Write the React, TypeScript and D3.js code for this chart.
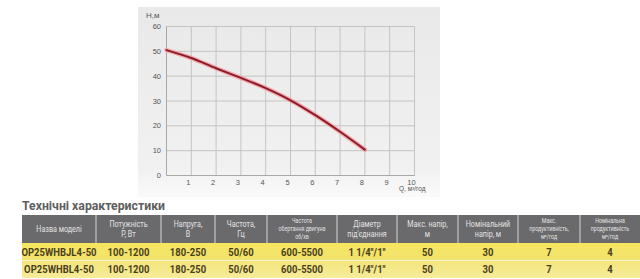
import React from "react";
import * as d3 from "d3";

const flowQ = [0, 1, 2, 3, 4, 5, 6, 7, 8];
const headH = [50.5, 47.3, 43.2, 39.3, 35.2, 30.3, 24.3, 17.6, 10.4];
const xTicks = [1, 2, 3, 4, 5, 6, 7, 8, 9, 10];
const yTicks = [0, 10, 20, 30, 40, 50, 60];

const tableTitle = "Технічні характеристики";
const headers: string[][] = [
  ["Назва моделі"],
  ["Потужність", "P, Вт"],
  ["Напруга,", "В"],
  ["Частота,", "Гц"],
  ["Частота", "обертання двигуна", "об/хв"],
  ["Діаметр", "під'єднання"],
  ["Макс. напір,", "м"],
  ["Номінальний", "напір, м"],
  ["Макс.", "продуктивність,", "м³/год"],
  ["Номінальна", "продуктивність", "м³/год"],
];
const rows: string[][] = [
  ["OP25WHBJL4-50", "100-1200", "180-250", "50/60", "600-5500", "1 1/4\"/1\"", "50", "30", "7", "4"],
  ["OP25WHBL4-50", "100-1200", "180-250", "50/60", "600-5500", "1 1/4\"/1\"", "50", "30", "7", "4"],
];
const colEdges = [22, 96, 161, 215, 267, 337, 397, 458, 518, 580, 640];

const W = 640;
const H = 279;

export default function App() {
  const x = d3.scaleLinear().domain([0, 10]).range([166.5, 414.5]);
  const y = d3.scaleLinear().domain([0, 60]).range([175.5, 26.5]);
  const line = d3
    .line<number>()
    .x((_, i) => x(flowQ[i]))
    .y((d) => y(d))
    .curve(d3.curveMonotoneX);
  const path = line(headH) || "";

  const chartFont = "'Liberation Sans', Arial, sans-serif";
  const tableFont = "Roboto, 'Liberation Sans', sans-serif";
  const squeeze = 0.84;

  const headTop = 215;
  const headBot = 243;
  const rowH = 17.5;

  return (
    <svg
      width={W}
      height={H}
      style={{ position: "absolute", left: 0, top: 0, display: "block" }}
    >
      <defs>
        <linearGradient id="panel" x1="0" y1="0" x2="0" y2="1">
          <stop offset="0" stopColor="#e9e9e9" />
          <stop offset="0.85" stopColor="#f1f1f1" />
          <stop offset="1" stopColor="#fafafa" />
        </linearGradient>
        <linearGradient id="row1" x1="0" y1="0" x2="0" y2="1">
          <stop offset="0" stopColor="#f6e65e" />
          <stop offset="1" stopColor="#f2e270" />
        </linearGradient>
        <linearGradient id="row2" x1="0" y1="0" x2="0" y2="1">
          <stop offset="0" stopColor="#f3e57c" />
          <stop offset="1" stopColor="#f6ec9a" />
        </linearGradient>
      </defs>
      <rect x={0} y={0} width={W} height={H} fill="#ffffff" />
      <rect x={138} y={7} width={302} height={190} fill="url(#panel)" />

      {/* grid */}
      {xTicks.map((t) => (
        <line key={"gx" + t} x1={x(t)} x2={x(t)} y1={y(60)} y2={y(0)} stroke="#c4c4c4" strokeWidth={1} />
      ))}
      {yTicks.map((t) => (
        <line key={"gy" + t} x1={x(0)} x2={x(10)} y1={y(t)} y2={y(t)} stroke="#c4c4c4" strokeWidth={1} />
      ))}
      <line x1={x(0)} x2={x(0)} y1={y(60)} y2={y(0)} stroke="#a8a8a8" strokeWidth={1} />
      <line x1={x(0)} x2={x(10)} y1={y(0)} y2={y(0)} stroke="#a8a8a8" strokeWidth={1} />

      {/* axis labels */}
      {yTicks.map((t) => (
        <text key={"ly" + t} x={161} y={y(t) + 2.5} textAnchor="end" fontSize={7.5} fill="#555" fontFamily={chartFont}>
          {t}
        </text>
      ))}
      {xTicks.map((t) => (
        <text key={"lx" + t} x={x(t) - 3} y={184.5} textAnchor="middle" fontSize={7.5} fill="#555" fontFamily={chartFont}>
          {t}
        </text>
      ))}
      <text x={146} y={18} fontSize={8} fill="#555" fontFamily={chartFont}>H,м</text>
      <text x={399} y={191} fontSize={6.5} fill="#555" fontFamily={chartFont}>Q, м³/год</text>

      {/* curve */}
      <path d={path} fill="none" stroke="#f59a9a" strokeOpacity={0.8} strokeWidth={4.5} strokeLinecap="round" />
      <path d={path} fill="none" stroke="#8a1c2c" strokeWidth={2} strokeLinecap="round" />

      {/* table title */}
      <text
        x={22}
        y={210}
        fontSize={13}
        fontWeight="bold"
        fill="#5e5e5e"
        fontFamily={tableFont}
        textLength={143}
        lengthAdjust="spacingAndGlyphs"
      >
        {tableTitle}
      </text>

      {/* header */}
      <rect x={colEdges[0]} y={headTop} width={colEdges[colEdges.length - 1] - colEdges[0]} height={headBot - headTop} fill="#6a6a6c" />
      {rows.map((r, ri) => (
        <rect
          key={"rb" + ri}
          x={colEdges[0]}
          y={headBot + ri * rowH}
          width={colEdges[colEdges.length - 1] - colEdges[0]}
          height={rowH}
          fill={ri === 0 ? "url(#row1)" : "url(#row2)"}
        />
      ))}
      <line x1={colEdges[0]} x2={640} y1={headBot + rowH} y2={headBot + rowH} stroke="#fbf6d0" strokeWidth={1} />
      {colEdges.slice(1, -1).map((e, i) => (
        <line key={"cv" + i} x1={e} x2={e} y1={headTop} y2={headBot} stroke="#d6d6d6" strokeWidth={1} />
      ))}
      {headers.map((lines, ci) => {
        const cx = (colEdges[ci] + colEdges[ci + 1]) / 2;
        const fs = lines.length >= 3 ? 6.3 : 8.5;
        const lh = lines.length >= 3 ? 7.8 : 9.5;
        const cy = (headTop + headBot) / 2;
        const start = cy - ((lines.length - 1) * lh) / 2 + fs * 0.35;
        return (
          <g key={"h" + ci} transform={`translate(${cx},0) scale(${squeeze},1)`}>
            <text textAnchor="middle" fontSize={fs} fill="#e2e2e2" fontFamily={tableFont}>
              {lines.map((l, li) => (
                <tspan key={li} x={0} y={start + li * lh}>
                  {l}
                </tspan>
              ))}
            </text>
          </g>
        );
      })}
      {rows.map((r, ri) =>
        r.map((v, ci) => (
          <g
            key={"c" + ri + "-" + ci}
            transform={`translate(${(colEdges[ci] + colEdges[ci + 1]) / 2},${headBot + ri * rowH + rowH / 2 + 4}) scale(${squeeze},1)`}
          >
            <text x={0} y={0} textAnchor="middle" fontSize={11.3} fontWeight="bold" fill="#4a3f1c" fontFamily={tableFont}>
              {v}
            </text>
          </g>
        ))
      )}
    </svg>
  );
}
